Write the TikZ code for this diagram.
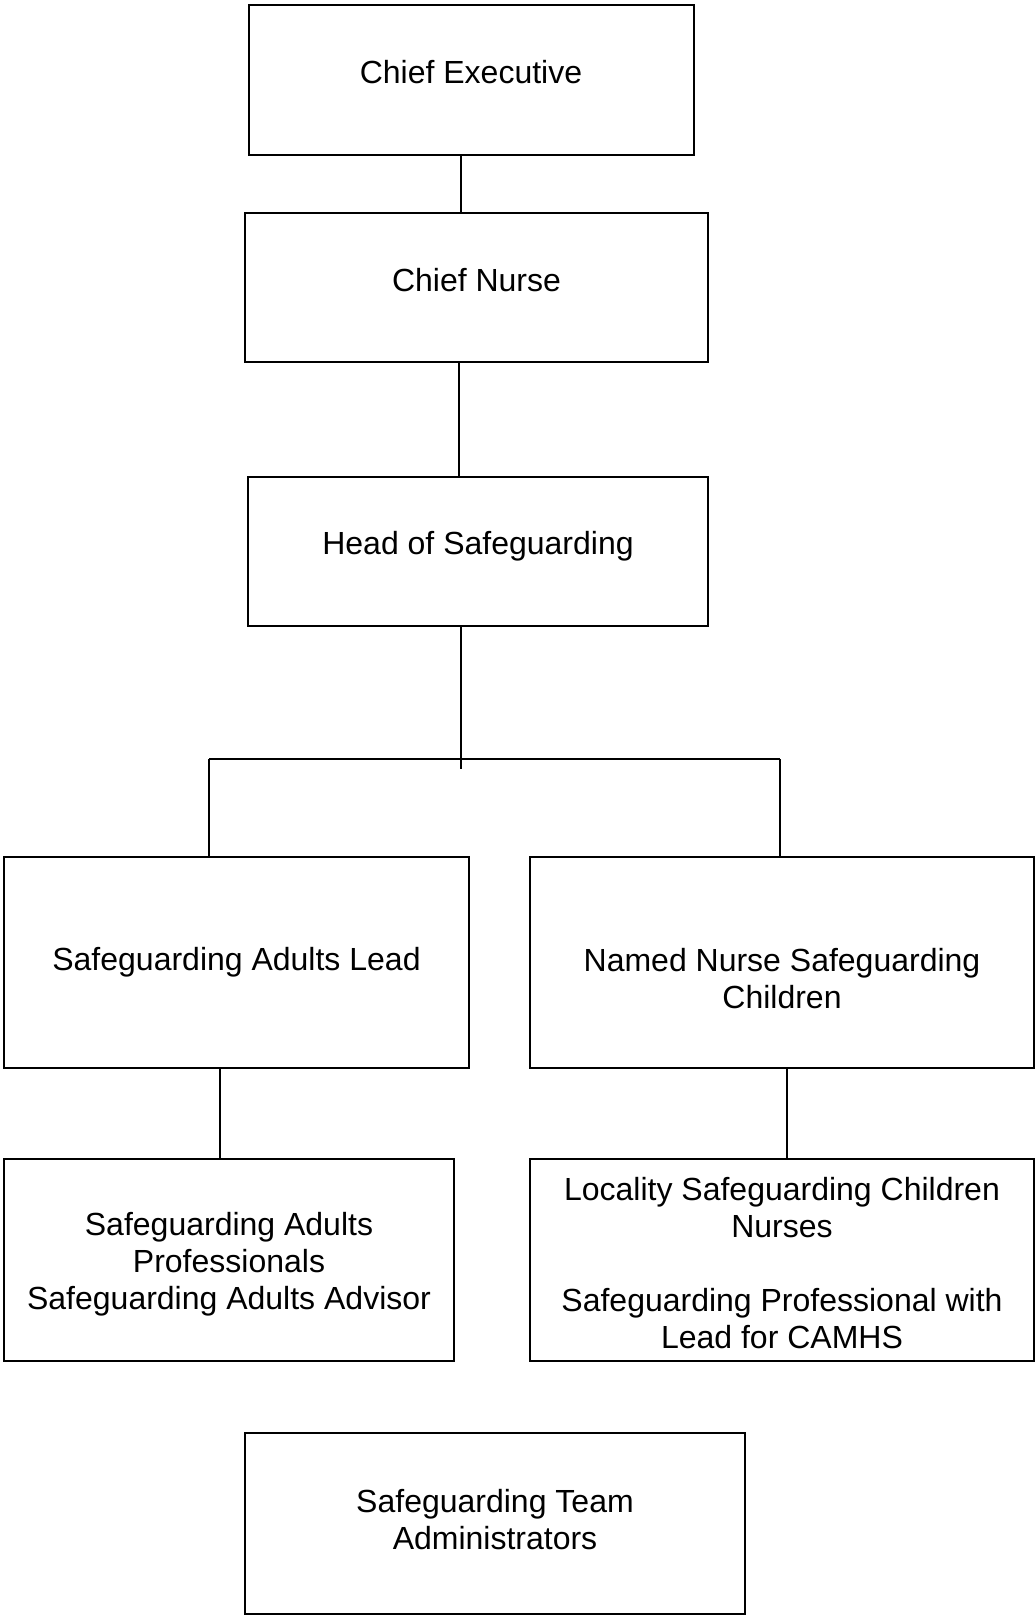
\documentclass[tikz,border=0pt]{standalone}
\usepackage{fontspec}
\setmainfont{Liberation Sans}
\usepackage{tikz}

\tikzset{
  post/.style 2 args={draw, line width=1.5pt, inner sep=0pt,
    minimum width=#1*0.75pt, minimum height=#2*0.75pt},
  link/.style={line width=1.1pt}
}

\begin{document}
\begin{tikzpicture}[x=0.75pt,y=-0.75pt,font=\fontsize{24}{27.75}\selectfont,
  every label/.style={align=center}]
  \useasboundingbox (0,0) rectangle (1035,1617);

  \node[post={445}{150}, label={[yshift=6pt]center:Chief Executive}] (ce) at (471,80) {};
  \node[post={463}{149}, label={[yshift=5.5pt]center:Chief Nurse}] (cn) at (476.5,287.5) {};
  \node[post={460}{149}, label={[yshift=4pt]center:Head of Safeguarding}] (hos) at (478,551.5) {};

  \node[post={465}{211}, label={center:Safeguarding Adults Lead}] (sal) at (236.5,962.5) {};
  \node[post={504}{211}, label={[yshift=-12pt]center:Named Nurse Safeguarding\\Children}] (nnsc) at (782,962.5) {};

  \node[post={450}{202}, label={[yshift=-3pt]center:Safeguarding Adults\\Professionals\\Safeguarding Adults Advisor}] (sap) at (229,1260) {};
  \node[post={504}{202}, label={[yshift=-2pt]center:Locality Safeguarding Children\\Nurses\\[27.75pt]Safeguarding Professional with\\Lead for CAMHS}] (lscn) at (782,1260) {};

  \node[post={500}{181}, label={[yshift=3pt]center:Safeguarding Team\\Administrators}] (adm) at (495,1523.5) {};

  % connector columns
  \coordinate (k1) at (461,0);
  \coordinate (k2) at (459,0);
  \coordinate (k4) at (220,0);
  \coordinate (k5) at (787,0);
  \coordinate (bl) at (209,759);
  \coordinate (br) at (780,759);
  \coordinate (bm) at (461,769);

  \draw[link] (ce.south -| k1) -- (cn.north -| k1);
  \draw[link] (cn.south -| k2) -- (hos.north -| k2);
  \draw[link] (hos.south -| bm) -- (bm);
  \draw[link] (bl) -- (br);
  \draw[link] (bl) -- (sal.north -| bl);
  \draw[link] (br) -- (nnsc.north -| br);
  \draw[link] (sal.south -| k4) -- (sap.north -| k4);
  \draw[link] (nnsc.south -| k5) -- (lscn.north -| k5);
\end{tikzpicture}
\end{document}
